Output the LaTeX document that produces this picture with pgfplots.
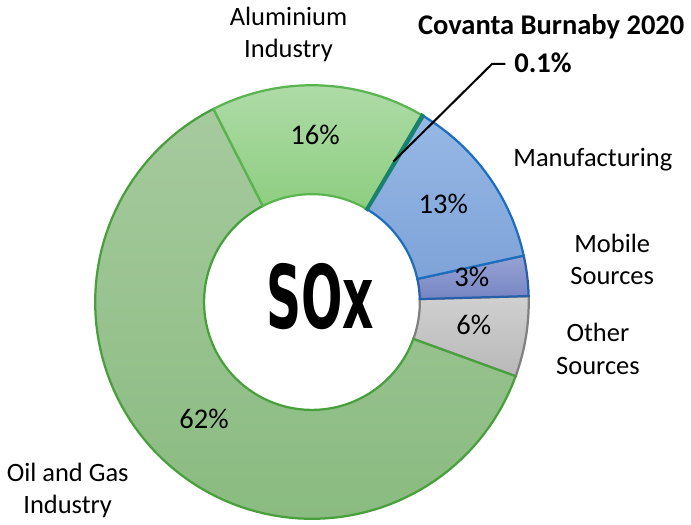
\documentclass[border=0pt]{standalone}
\usepackage{pgfplots}
\pgfplotsset{compat=1.18}
\usepackage{fontspec}
\setmainfont{Carlito}
\newfontfamily\sox{DejaVu Sans}

\definecolor{oiltop}{RGB}{166,202,158}
\definecolor{oilbot}{RGB}{138,187,128}
\definecolor{oilline}{RGB}{72,160,60}
\definecolor{alutop}{RGB}{174,219,167}
\definecolor{alubot}{RGB}{142,206,128}
\definecolor{aluline}{RGB}{90,180,80}
\definecolor{mantop}{RGB}{150,184,230}
\definecolor{manbot}{RGB}{127,163,216}
\definecolor{manline}{RGB}{30,110,190}
\definecolor{mobtop}{RGB}{152,163,212}
\definecolor{mobbot}{RGB}{118,134,196}
\definecolor{mobline}{RGB}{40,95,170}
\definecolor{othtop}{RGB}{208,208,208}
\definecolor{othbot}{RGB}{184,184,184}
\definecolor{othline}{RGB}{128,128,128}
\definecolor{covanta}{RGB}{25,130,110}

% share of SOx emissions, percent
\pgfplotstableread{
source        value
Other         6
Mobile        3
Manufacturing 13
Covanta       0.1
Aluminium     16
OilGas        62
}\soxdata

% ring geometry (pixel units of the reference)
\def\cx{313}\def\cy{224}\def\Ro{213}\def\Ri{106}
\def\total{100.1}

% one ring segment: start angle, value, top colour, bottom colour, edge colour, edge width
\newcommand\slice[6]{%
  \pgfmathsetmacro\D{#2/\total*360}%
  \pgfmathsetmacro\A{#1}%
  \pgfmathsetmacro\B{#1+\D}%
  \edef\doslice{\noexpand\addplot[top color=#3, bottom color=#4, draw=#5,
      line width=#6, domain=0:2, samples=201]
    ({\cx+(x<1.005?\Ro:\Ri)*cos(x<1.005?\A+\D*x:\B-\D*(x-1.01)/0.99)},
     {\cy+(x<1.005?\Ro:\Ri)*sin(x<1.005?\A+\D*x:\B-\D*(x-1.01)/0.99)}) -- cycle;}%
  \doslice
}

\begin{document}
\begin{tikzpicture}
\begin{axis}[
    hide axis,
    scale only axis,
    width=345.5bp, height=259.5bp,
    xmin=0, xmax=691, ymin=0, ymax=519,
    clip=false,
]
\pgfplotstablegetelem{0}{value}\of\soxdata \let\vOth\pgfplotsretval
\pgfplotstablegetelem{1}{value}\of\soxdata \let\vMob\pgfplotsretval
\pgfplotstablegetelem{2}{value}\of\soxdata \let\vMan\pgfplotsretval
\pgfplotstablegetelem{3}{value}\of\soxdata \let\vCov\pgfplotsretval
\pgfplotstablegetelem{4}{value}\of\soxdata \let\vAlu\pgfplotsretval
\pgfplotstablegetelem{5}{value}\of\soxdata \let\vOil\pgfplotsretval
% start angles, counter-clockwise from the Other Sources slice
\pgfmathsetmacro\sOth{-20}
\pgfmathsetmacro\sMob{\sOth+\vOth/\total*360}
\pgfmathsetmacro\sMan{\sMob+\vMob/\total*360}
\pgfmathsetmacro\sCov{\sMan+\vMan/\total*360}
\pgfmathsetmacro\sAlu{\sCov+\vCov/\total*360}
\pgfmathsetmacro\sOil{\sAlu+\vAlu/\total*360}

\slice{\sOth}{\vOth}{othtop}{othbot}{othline}{1.1bp}
\slice{\sMob}{\vMob}{mobtop}{mobbot}{mobline}{1.1bp}
\slice{\sMan}{\vMan}{mantop}{manbot}{manline}{1.1bp}
\slice{\sOil}{\vOil}{oiltop}{oilbot}{oilline}{1.1bp}
\slice{\sAlu}{\vAlu}{alutop}{alubot}{aluline}{1.1bp}
\slice{\sCov}{\vCov}{covanta}{covanta}{covanta}{1.6bp}

% leader line to the Covanta slice
\addplot[black, line width=1bp] coordinates {(393,362) (490,458) (503,458)};

\begin{scope}[font=\fontsize{14bp}{16bp}\selectfont]
\node at (axis cs:316,388) {16\%};
\node at (axis cs:442,320) {13\%};
\node at (axis cs:470,249) {3\%};
\node at (axis cs:472,202) {6\%};
\node at (axis cs:207,109) {62\%};
\end{scope}

\begin{scope}[font=\fontsize{13bp}{16bp}\selectfont, align=center]
\node at (axis cs:290,487) {Aluminium\\Industry};
\node at (axis cs:589,364) {Manufacturing};
\node at (axis cs:608,266) {Mobile\\Sources};
\node at (axis cs:594,178) {Other\\Sources};
\node at (axis cs:73,39) {Oil and Gas\\Industry};
\end{scope}

\node[font=\fontsize{14bp}{16bp}\selectfont\bfseries] at (axis cs:548,494) {Covanta Burnaby 2020};
\node[font=\fontsize{14bp}{16bp}\selectfont\bfseries] at (axis cs:540,459) {0.1\%};

\node at (axis cs:321,229) {\resizebox{53bp}{32bp}{\sox\bfseries SOx}};
\end{axis}
\end{tikzpicture}
\end{document}
